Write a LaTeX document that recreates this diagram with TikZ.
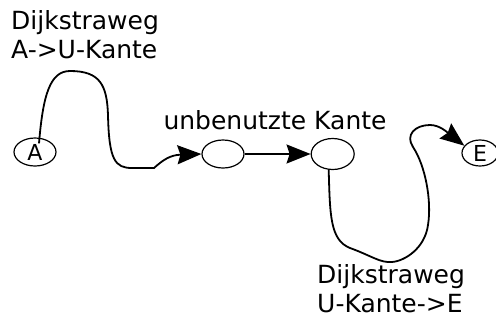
\documentclass[tikz,border=0pt]{standalone}
\usepackage{fontspec}
\setmainfont{DejaVu Sans}
\usepackage{tikz}
\usetikzlibrary{shapes, arrows.meta, positioning}
\tikzset{
  >=Stealth,
  knoten/.style={draw, ellipse, line width=1.2pt, inner sep=0pt, minimum width=42pt, minimum height=28pt, font=\fontsize{22}{26}\selectfont},
  beschriftung/.style={inner sep=0pt, align=left, font=\fontsize{25}{29}\selectfont},
  wegpfeil/.style={-{Stealth[length=24pt, width=19pt, inset=3pt]}, line width=1.8pt, black}
}
\begin{document}
\begin{tikzpicture}[x=1pt, y=-1pt]
    \useasboundingbox (0,0) rectangle (496,322);

    \node (a) [knoten] at (35,152) {A};
    \node (u1) [knoten] at (223,154) {};
    \node (u2) [knoten, minimum width=43pt, minimum height=31pt, right=66pt of u1] {};
    \node (e) [knoten, minimum width=36pt, minimum height=26pt] at (480,153) {E};

    \node (weg1) [beschriftung, anchor=north west] at (11,10) {Dijkstraweg\\A->U-Kante};
    \node (unbenutzt) [beschriftung, anchor=base] at (275,129) {unbenutzte Kante};
    \node (weg2) [beschriftung, anchor=north west] at (317,264) {Dijkstraweg\\U-Kante->E};

    \draw[wegpfeil] ([xshift=4pt, yshift=-6pt]a.north) .. controls (43,95) and (50,71) .. (70,71)
        .. controls (100,71) and (107,85) .. (108,115)
        .. controls (109,160) and (115,168) .. (132,168) -- (154,168)
        .. controls (163,160) and (170,155) .. (u1.west);
    \draw[wegpfeil] (u1) -- (u2);
    \draw[wegpfeil] ([xshift=-4pt]u2.south) .. controls (330,215) and (330,240) .. (350,248)
        .. controls (372,256) and (380,263) .. (392,262)
        .. controls (405,261) and (425,248) .. (428,225)
        .. controls (432,200) and (425,165) .. (413,147)
        .. controls (405,135) and (415,125) .. (430,125)
        .. controls (440,125) and (448,133) .. (e.155);
\end{tikzpicture}
\end{document}
